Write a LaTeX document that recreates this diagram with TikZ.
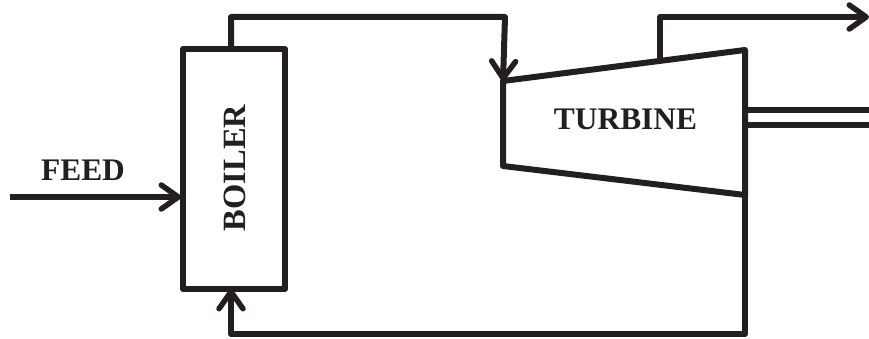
\documentclass[tikz,border=0pt]{standalone}
\usepackage{fontspec}
\setmainfont{Liberation Serif}
\usetikzlibrary{arrows.meta}
\definecolor{ink}{HTML}{231F20}
\tikzset{
  x=1pt,y=-1pt,
  pipe/.style={draw=ink,line width=6pt,line join=round},
  flow/.style={pipe,-{Straight Barb[length=17pt,width=24pt,line width=5.5pt,round]}},
  shaft/.style={draw=ink,line width=6pt},
  lbl/.style={text=ink,font=\fontsize{31.4}{34}\selectfont\bfseries,inner sep=0pt},
  unit/.style={draw=ink,line width=6pt,line join=round,inner sep=0pt}
}
\begin{document}
\begin{tikzpicture}
\useasboundingbox (0,0) rectangle (869,339);
% boiler
\node[unit,minimum width=102pt,minimum height=240pt] (boiler) at (234,169) {};
\node[lbl,rotate=90,font=\fontsize{32.5}{34}\selectfont\bfseries] (boilertext) at (235,168) {BOILER};
% turbine
\coordinate (t1) at (503,81);
\coordinate (t2) at (745,50);
\coordinate (t3) at (745,195);
\coordinate (t4) at (503,166);
\draw[pipe] (t1) -- (t2) -- (t3) -- (t4) -- cycle;
\node[lbl] (turbine) at (625.5,119) {TURBINE};
\node[lbl] (feed) at (83,170) {FEED};
% free ends
\coordinate (feedin) at (10,197);
\coordinate (b1) at (231,49);
\coordinate (b2) at (231,17);
\coordinate (b3) at (505,17);
\coordinate (o1) at (660,60);
\coordinate (o2) at (660,17);
\coordinate (o3) at (869,17);
\coordinate (s1a) at (745,110);
\coordinate (s1b) at (869,110);
\coordinate (s2a) at (745,125);
\coordinate (s2b) at (869,125);
\coordinate (r1) at (745,334);
\coordinate (r2) at (231,334);
\coordinate (b4) at (231,289);
% connectors
\draw[flow] (feedin) -- ([xshift=1pt]feedin -| boiler.west);
\draw[flow] (b1) -- (b2) -- (b3) -- (t1);
\draw[flow] (o1) -- (o2) -- (o3);
\draw[shaft] (s1a) -- (s1b);
\draw[shaft] (s2a) -- (s2b);
\draw[flow] (t3) -- (r1) -- (r2) -- (b4);
\end{tikzpicture}
\end{document}
